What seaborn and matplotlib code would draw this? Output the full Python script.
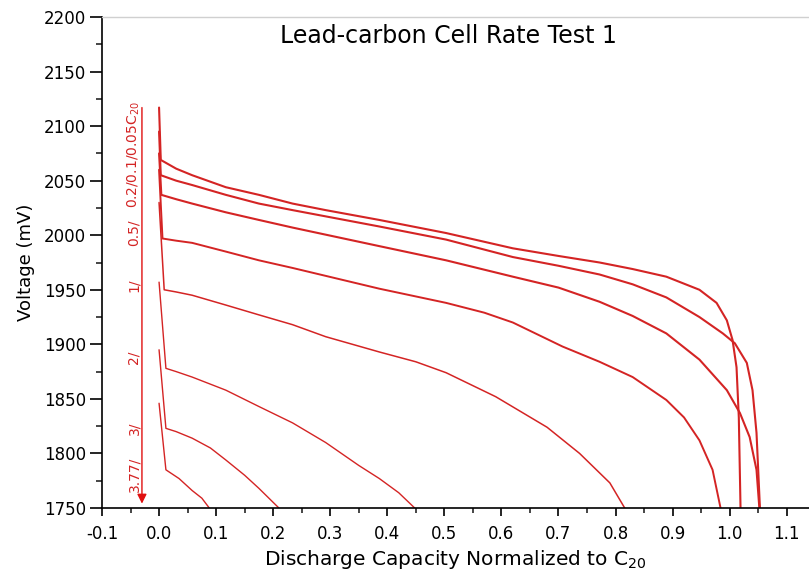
import numpy as np
import pandas as pd
import matplotlib
matplotlib.use("Agg")
import matplotlib.pyplot as plt
import seaborn as sns
from matplotlib.ticker import MultipleLocator

# ---- data ----
rates = ["0.05C", "0.1C", "0.2C", "0.5C", "1C", "2C", "3C", "3.77C"]

x_005 = [0.0, 0.003, 0.03, 0.058, 0.117, 0.175, 0.234, 0.292, 0.386, 0.503, 0.62, 0.70, 0.772, 0.83, 0.889, 0.947, 0.977, 0.995, 1.005, 1.012, 1.016, 1.019]
v_005 = [2117, 2069, 2061, 2055, 2044, 2037, 2029, 2023, 2014, 2002, 1988, 1981, 1975, 1969, 1962, 1950, 1938, 1922, 1904, 1879, 1833, 1750]

x_01 = [0.0, 0.003, 0.03, 0.058, 0.117, 0.175, 0.234, 0.386, 0.503, 0.62, 0.70, 0.772, 0.83, 0.889, 0.947, 0.988, 1.009, 1.030, 1.040, 1.047, 1.053]
v_01 = [2095, 2055, 2050, 2046, 2037, 2029, 2023, 2008, 1996, 1980, 1972, 1964, 1955, 1943, 1925, 1910, 1901, 1883, 1858, 1819, 1750]

x_02 = [0.0, 0.004, 0.03, 0.058, 0.117, 0.175, 0.234, 0.386, 0.503, 0.62, 0.70, 0.772, 0.83, 0.889, 0.947, 0.995, 1.018, 1.035, 1.047, 1.052]
v_02 = [2075, 2037, 2033, 2029, 2021, 2014, 2007, 1990, 1977, 1962, 1952, 1939, 1926, 1910, 1886, 1858, 1837, 1815, 1785, 1750]

x_05 = [0.0, 0.006, 0.03, 0.058, 0.117, 0.175, 0.234, 0.386, 0.503, 0.57, 0.62, 0.707, 0.772, 0.83, 0.889, 0.92, 0.947, 0.97, 0.984]
v_05 = [2060, 1997, 1995, 1993, 1985, 1977, 1970, 1951, 1938, 1929, 1920, 1898, 1884, 1870, 1849, 1833, 1812, 1785, 1750]

x_1 = [0.0, 0.009, 0.03, 0.058, 0.117, 0.175, 0.234, 0.292, 0.386, 0.45, 0.503, 0.59, 0.68, 0.737, 0.79, 0.816]
v_1 = [2030, 1950, 1948, 1945, 1936, 1927, 1918, 1907, 1893, 1884, 1874, 1852, 1824, 1800, 1773, 1750]

x_2 = [0.0, 0.012, 0.03, 0.058, 0.117, 0.175, 0.234, 0.292, 0.35, 0.386, 0.42, 0.448]
v_2 = [1957, 1878, 1875, 1870, 1858, 1843, 1828, 1810, 1789, 1777, 1764, 1750]

x_3 = [0.0, 0.012, 0.03, 0.058, 0.09, 0.117, 0.15, 0.175, 0.21]
v_3 = [1895, 1823, 1820, 1814, 1805, 1794, 1780, 1768, 1750]

x_377 = [0.0, 0.012, 0.035, 0.058, 0.075, 0.088]
v_377 = [1846, 1785, 1777, 1766, 1759, 1750]

label_texts = ["3.77/", "3/", "2/", "1/", "0.5/", "0.2/0.1/0.05C$_{\\mathrm{20}}$"]
label_y = [1781, 1823, 1888, 1954, 2002, 2074]

xs = [x_005, x_01, x_02, x_05, x_1, x_2, x_3, x_377]
vs = [v_005, v_01, v_02, v_05, v_1, v_2, v_3, v_377]

frames = []
for r, xx, vv in zip(rates, xs, vs):
    frames.append(pd.DataFrame({"cap": xx, "volt": vv, "rate": r}))
df = pd.concat(frames, ignore_index=True)

# ---- styling ----
sns.set_style("ticks")
plt.rcParams["font.family"] = ["DejaVu Sans"]
plt.rcParams["mathtext.fontset"] = "dejavusans"
plt.rcParams["text.color"] = "black"
plt.rcParams["axes.labelcolor"] = "black"

RED = "#d42424"
widths = {"0.05C": 1.5, "0.1C": 1.5, "0.2C": 1.5, "0.5C": 1.4,
          "1C": 1.1, "2C": 1.0, "3C": 1.0, "3.77C": 1.0}

fig = plt.figure(figsize=(8.09, 5.70), dpi=100)
ax = fig.add_axes([102 / 809, (570 - 508) / 570, (809 - 102) / 809, (508 - 17) / 570])

sns.lineplot(data=df, x="cap", y="volt", hue="rate", hue_order=rates,
             palette=[RED] * len(rates), size="rate", sizes=widths,
             sort=False, estimator=None, legend=False, ax=ax)

ax.set_xlim(-0.1, 1.139)
ax.set_ylim(1750, 2200)
xt = np.round(np.arange(-0.1, 1.101, 0.1), 2)
ax.set_xticks(xt)
ax.set_xticklabels([f"{t:.1f}" for t in xt])
ax.xaxis.set_minor_locator(MultipleLocator(0.05))
ax.yaxis.set_major_locator(MultipleLocator(50))
ax.yaxis.set_minor_locator(MultipleLocator(25))
ax.tick_params(axis="x", which="major", direction="out", length=6, width=1.2,
               labelsize=12, pad=6, colors="black")
ax.tick_params(axis="x", which="minor", direction="out", length=3.6, width=1.2)
ax.tick_params(axis="y", which="major", direction="out", length=8.5, width=1.2,
               labelsize=12, pad=3, colors="black")
ax.tick_params(axis="y", which="minor", direction="out", length=4, width=1.2)

for s in ["left", "bottom"]:
    ax.spines[s].set_color("black")
    ax.spines[s].set_linewidth(1.2)
ax.spines["right"].set_visible(False)
ax.spines["top"].set_color("#d0d0d0")
ax.spines["top"].set_linewidth(1.0)

ax.set_xlabel("Discharge Capacity Normalized to C$_{\\mathrm{20}}$", fontsize=14.5,
              labelpad=4, color="black")
ax.set_ylabel("Voltage (mV)", fontsize=13, labelpad=6, color="black")
ax.text(0.49, 0.962, "Lead-carbon Cell Rate Test 1", transform=ax.transAxes,
        ha="center", va="center", fontsize=17, color="black")

# rate labels and arrow
for t, y in zip(label_texts, label_y):
    ax.text(-0.044, y, t, rotation=90, ha="center", va="center",
            color=RED, fontsize=10)
ax.annotate("", xy=(-0.03, 1754), xytext=(-0.03, 2117),
            arrowprops=dict(arrowstyle="-|>", color="#e01010", lw=1.0,
                            mutation_scale=14, shrinkA=0, shrinkB=0))

fig.savefig("out.png", dpi=100)
